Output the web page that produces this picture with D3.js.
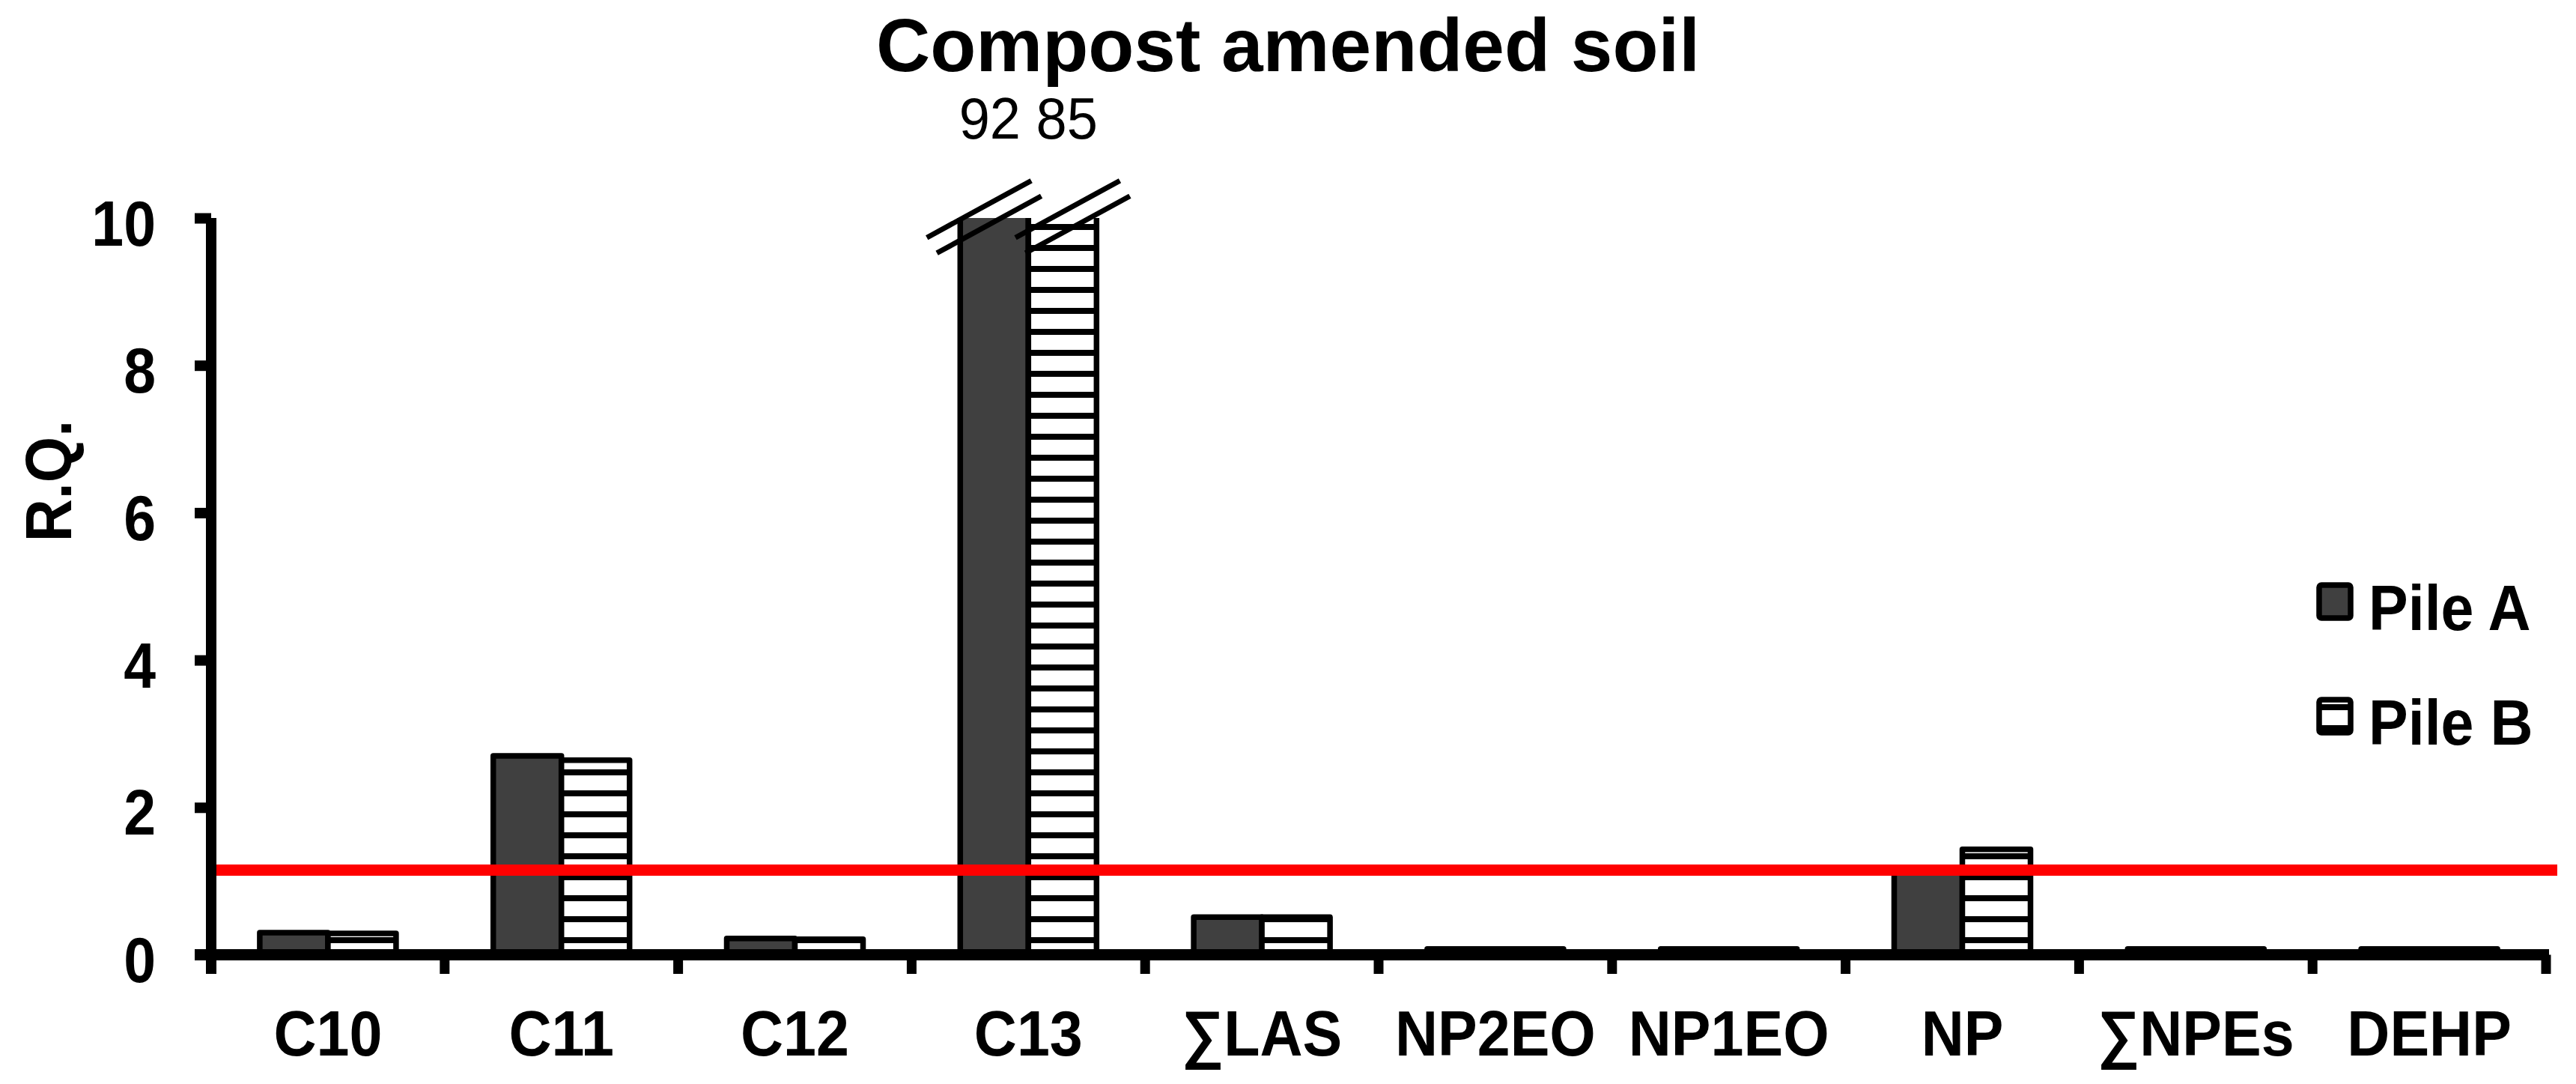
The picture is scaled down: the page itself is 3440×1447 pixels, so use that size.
<!DOCTYPE html>
<html>
<head>
<meta charset="utf-8">
<script src="https://cdn.jsdelivr.net/npm/d3@7"></script>
<style>
	body { margin: 0; background: #ffffff; }
	svg text { font-family: "Liberation Sans", Arial, sans-serif; fill: #000000; }
</style>
</head>
<body>
<div id="chart"></div>
<script>
var categories = ["C10", "C11", "C12", "C13", "\u2211LAS", "NP2EO", "NP1EO", "NP", "\u2211NPEs", "DEHP"];
var series = ["Pile A", "Pile B"];
var pileA = [0.30, 2.70, 0.22, 92, 0.51, 0.08, 0.08, 1.12, 0.08, 0.08];
var pileB = [0.29, 2.64, 0.21, 85, 0.51, 0.08, 0.08, 1.43, 0.08, 0.08];
var yTicks = [0, 2, 4, 6, 8, 10];
var yMax = 10;
var threshold = 1.15;
var title = "Compost amended soil";
var yLabel = "R.Q.";

(function () {
	var width = 3440, height = 1447;
	var left = 282, right = 3400, top = 291, base = 1274.5;
	var darkFill = "#404040";

	var svg = d3.select("#chart").append("svg")
		.attr("width", width)
		.attr("height", height);

	svg.append("rect").attr("width", width).attr("height", height).attr("fill", "#ffffff");

	var defs = svg.append("defs");
	// horizontal stripes for Pile B, tile offset differs for the bars and the legend key
	function stripes(id, offset) {
		var p = defs.append("pattern")
			.attr("id", id)
			.attr("patternUnits", "userSpaceOnUse")
			.attr("x", 0).attr("y", offset)
			.attr("width", 28).attr("height", 28);
		p.append("rect").attr("width", 28).attr("height", 28).attr("fill", "#ffffff");
		p.append("rect").attr("width", 28).attr("height", 8).attr("fill", "#000000");
	}
	stripes("stripesBar", 19);
	stripes("stripesKey", 6);

	defs.append("clipPath").attr("id", "plotClip")
		.append("rect")
		.attr("x", 0).attr("y", top)
		.attr("width", width).attr("height", height - top);

	var x = d3.scaleBand().domain(categories).range([left, right]).padding(0);
	var xs = d3.scaleBand().domain(series).range([0, x.bandwidth()]).paddingInner(0).paddingOuter(0.713);
	var y = d3.scaleLinear().domain([0, yMax]).range([base, top]);

	var rows = categories.map(function (c, i) {
		return { cat: c, values: [pileA[i], pileB[i]] };
	});

	// bars
	var bars = svg.append("g").attr("class", "bars").attr("clip-path", "url(#plotClip)");
	rows.forEach(function (r) {
		r.values.forEach(function (v, k) {
			bars.append("rect")
				.attr("x", x(r.cat) + xs(series[k]))
				.attr("y", y(v))
				.attr("width", xs.bandwidth())
				.attr("height", base - y(v))
				.attr("fill", k === 0 ? darkFill : "url(#stripesBar)")
				.attr("stroke", "#000000")
				.attr("stroke-width", 7.5)
				.attr("stroke-linejoin", "round");
		});
	});

	// broken bars: double slash marks and the real values on top
	rows.forEach(function (r) {
		var over = r.values.filter(function (v) { return v > yMax; });
		if (over.length == 0) {
			return;
		}
		var cc = x(r.cat) + x.bandwidth() / 2;
		r.values.forEach(function (v, k) {
			if (v <= yMax) return;
			var bc = x(r.cat) + xs(series[k]) + xs.bandwidth() / 2;
			var mx = cc + (bc - cc) * 1.3, my = y(yMax) - 1.5;
			[-1, 1].forEach(function (s) {
				var ox = mx + s * 6.7, oy = my + s * 10.3;
				svg.append("line")
					.attr("x1", ox - 69.7).attr("y1", oy + 38)
					.attr("x2", ox + 69.7).attr("y2", oy - 38)
					.attr("stroke", "#000000")
					.attr("stroke-width", 7);
			});
		});
		svg.append("text")
			.attr("transform", "translate(" + cc + ",185) scale(1,1.04)")
			.attr("text-anchor", "middle")
			.style("font-size", "74px")
			.text(r.values.join(" "));
	});

	// threshold line
	svg.append("line")
		.attr("x1", left).attr("x2", 3415)
		.attr("y1", y(threshold)).attr("y2", y(threshold))
		.attr("stroke", "#ff0000")
		.attr("stroke-width", 15);

	// category separator ticks
	var seps = categories.map(function (c) { return x(c); }).concat([right]);
	svg.append("g").selectAll("line").data(seps.slice(1)).enter().append("line")
		.attr("x1", function (d) { return d; }).attr("x2", function (d) { return d; })
		.attr("y1", base).attr("y2", 1300)
		.attr("stroke", "#000000")
		.attr("stroke-width", 13);

	// y axis
	var yAxis = svg.append("g")
		.attr("transform", "translate(" + left + ",0)")
		.call(d3.axisLeft(y).tickValues(yTicks).tickSize(22).tickSizeOuter(0).tickFormat(d3.format("d")));
	yAxis.select(".domain").remove();
	yAxis.selectAll(".tick line").attr("stroke", "#000000").attr("stroke-width", 14);
	yAxis.selectAll(".tick text")
		.attr("x", null).attr("dy", null)
		.attr("transform", "translate(-74,36) scale(1,1.1)")
		.attr("text-anchor", "end")
		.style("font-size", "77px")
		.style("font-weight", "bold");
	svg.append("line")
		.attr("x1", left).attr("x2", left)
		.attr("y1", top).attr("y2", 1300)
		.attr("stroke", "#000000")
		.attr("stroke-width", 14);

	// x axis
	var xAxis = svg.append("g")
		.attr("transform", "translate(0," + base + ")")
		.call(d3.axisBottom(x).tickSize(0));
	xAxis.select(".domain").remove();
	xAxis.selectAll(".tick text")
		.attr("y", null).attr("dy", null)
		.attr("transform", "translate(0,134.5) scale(1,1.08)")
		.style("font-size", "79px")
		.style("font-weight", "bold");
	svg.append("line")
		.attr("x1", 260).attr("x2", 3404)
		.attr("y1", base).attr("y2", base)
		.attr("stroke", "#000000")
		.attr("stroke-width", 15);

	// titles
	svg.append("text")
		.attr("x", width / 2).attr("y", 95)
		.attr("text-anchor", "middle")
		.style("font-size", "100px")
		.style("font-weight", "bold")
		.text(title);

	svg.append("text")
		.attr("transform", "translate(95,642) rotate(-90) scale(1,1.1)")
		.attr("text-anchor", "middle")
		.style("font-size", "79px")
		.style("font-weight", "bold")
		.text(yLabel);

	// legend
	var legend = svg.append("g").attr("transform", "translate(3097,781)");
	series.forEach(function (s, k) {
		var g = legend.append("g").attr("transform", "translate(0," + (k * 153) + ")");
		g.append("rect")
			.attr("width", 42).attr("height", 44)
			.attr("rx", 3)
			.attr("fill", k === 0 ? darkFill : "url(#stripesKey)")
			.attr("stroke", "#000000")
			.attr("stroke-width", 7.5);
		g.append("text")
			.attr("transform", "translate(66,60) scale(1,1.09)")
			.style("font-size", "79px")
			.style("font-weight", "bold")
			.text(s);
	});
})();
</script>
</body>
</html>
